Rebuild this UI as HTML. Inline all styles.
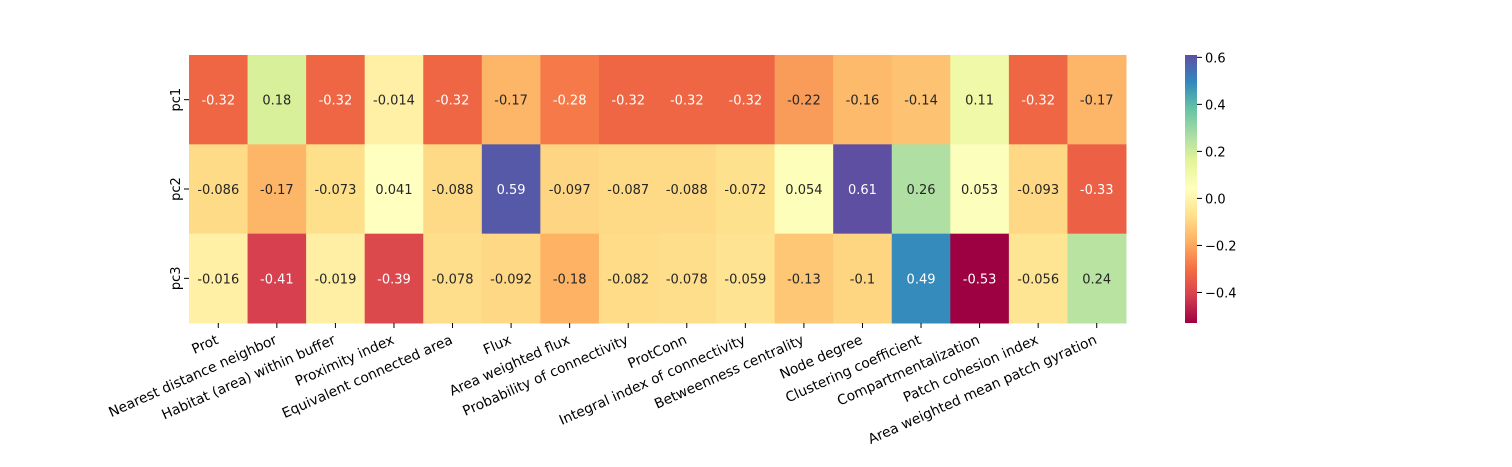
<!DOCTYPE html>
<html><head><meta charset="utf-8"><style>
html,body{margin:0;padding:0;background:#fff;}
svg text{font-family:"DejaVu Sans","Liberation Sans",sans-serif;font-size:13px;}
svg text.xl{font-size:13.8px;}
</style></head><body>
<svg id="chart" width="1512" height="462" xmlns="http://www.w3.org/2000/svg">
<defs><linearGradient id="cbgrad" x1="0" y1="1" x2="0" y2="0"></linearGradient></defs>
<g id="cells"></g>
<g id="xaxis"></g>
<g id="yaxis"></g>
<g id="cbar"></g>
</svg>
<script>
const columns = ["Prot","Nearest distance neighbor","Habitat (area) within buffer","Proximity index","Equivalent connected area","Flux","Area weighted flux","Probability of connectivity","ProtConn","Integral index of connectivity","Betweenness centrality","Node degree","Clustering coefficient","Compartmentalization","Patch cohesion index","Area weighted mean patch gyration"];
const rows = ["pc1","pc2","pc3"];
const pc1 = [-0.32,0.18,-0.32,-0.014,-0.32,-0.17,-0.28,-0.32,-0.32,-0.32,-0.22,-0.16,-0.14,0.11,-0.32,-0.17];
const pc2 = [-0.086,-0.17,-0.073,0.041,-0.088,0.59,-0.097,-0.087,-0.088,-0.072,0.054,0.61,0.26,0.053,-0.093,-0.33];
const pc3 = [-0.016,-0.41,-0.019,-0.39,-0.078,-0.092,-0.18,-0.082,-0.078,-0.059,-0.13,-0.1,0.49,-0.53,-0.056,0.24];
const labels1 = ["-0.32","0.18","-0.32","-0.014","-0.32","-0.17","-0.28","-0.32","-0.32","-0.32","-0.22","-0.16","-0.14","0.11","-0.32","-0.17"];
const labels2 = ["-0.086","-0.17","-0.073","0.041","-0.088","0.59","-0.097","-0.087","-0.088","-0.072","0.054","0.61","0.26","0.053","-0.093","-0.33"];
const labels3 = ["-0.016","-0.41","-0.019","-0.39","-0.078","-0.092","-0.18","-0.082","-0.078","-0.059","-0.13","-0.1","0.49","-0.53","-0.056","0.24"];
const cbTicks = [0.6,0.4,0.2,0.0,-0.2,-0.4];
const cbTickLabels = ["0.6","0.4","0.2","0.0","\u22120.2","\u22120.4"];
const vmin = -0.53, vmax = 0.61;

const NS="http://www.w3.org/2000/svg";
const L=189,R=1126,T=55,B=323;
const cw=(R-L)/columns.length, rh=(B-T)/rows.length;
const stops=["#9e0142","#d53e4f","#f46d43","#fdae61","#fee08b","#ffffbf","#e6f598","#abdda4","#66c2a5","#3288bd","#5e4fa2"].map(h=>[parseInt(h.slice(1,3),16),parseInt(h.slice(3,5),16),parseInt(h.slice(5,7),16)]);
function cmap(v){let t=(v-vmin)/(vmax-vmin);t=Math.max(0,Math.min(1,t));const p=t*(stops.length-1);const i=Math.min(stops.length-2,Math.floor(p));const f=p-i;return stops[i].map((c,k)=>Math.round(c+(stops[i+1][k]-c)*f));}
function lum(c){const l=c.map(x=>{x/=255;return x<=0.03928?x/12.92:Math.pow((x+0.055)/1.055,2.4)});return 0.2126*l[0]+0.7152*l[1]+0.0722*l[2];}
function mk(tag,attrs,parent){const e=document.createElementNS(NS,tag);for(const k in attrs)e.setAttribute(k,attrs[k]);parent.appendChild(e);return e;}
const xs=i=>L+i*cw, ys=j=>T+j*rh;
const cells=document.getElementById('cells');
const data=[pc1,pc2,pc3], labs=[labels1,labels2,labels3];
data.forEach((row,j)=>row.forEach((v,i)=>{
  const c=cmap(v);
  const r=mk('rect',{x:xs(i),y:ys(j),width:cw+0.5,height:rh+0.5,fill:`rgb(${c.join(',')})`},cells);
  
  
  const t=mk('text',{x:xs(i)+cw/2,y:ys(j)+rh/2+5,'text-anchor':'middle',fill:lum(c)>0.408?'#262626':'#ffffff'},cells);
  t.textContent=labs[j][i];
  
  
}));
const xa=document.getElementById('xaxis');
columns.forEach((n,i)=>{
  const x=xs(i)+cw/2;
  mk('line',{x1:x,y1:B,x2:x,y2:B+5,stroke:'#000','stroke-width':1},xa);
  const ax=x+1, ay=B+20;
  const t=mk('text',{x:ax,y:ay,'class':'xl','text-anchor':'end',transform:`rotate(-24 ${ax} ${ay})`},xa);
  t.textContent=n;
  
  
});
const ya=document.getElementById('yaxis');
rows.forEach((n,j)=>{
  const y=ys(j)+rh/2;
  mk('line',{x1:L-5,y1:y,x2:L,y2:y,stroke:'#000','stroke-width':1},ya);
  const t=mk('text',{x:L-9,y:y,'text-anchor':'middle',transform:`rotate(-90 ${L-9} ${y})`},ya);
  t.textContent=n;
  
  
});
const grad=document.getElementById('cbgrad');
for(let k=0;k<=20;k++){const v=vmin+(vmax-vmin)*k/20;const c=cmap(v);mk('stop',{offset:(k/20),'stop-color':`rgb(${c.join(',')})`},grad);}
const cb=document.getElementById('cbar');
const CX=1185,CW=12;
const cy=v=>B-(v-vmin)/(vmax-vmin)*(B-T);
const cr=mk('rect',{x:CX,y:T,width:CW,height:B-T,fill:'url(#cbgrad)'},cb);


cbTicks.forEach((v,k)=>{
  const y=cy(v);
  mk('line',{x1:CX+CW,y1:y,x2:CX+CW+5,y2:y,stroke:'#000','stroke-width':1},cb);
  const t=mk('text',{x:CX+CW+8,y:y+5},cb);
  t.textContent=cbTickLabels[k];
  
  
});
</script>
</body></html>
